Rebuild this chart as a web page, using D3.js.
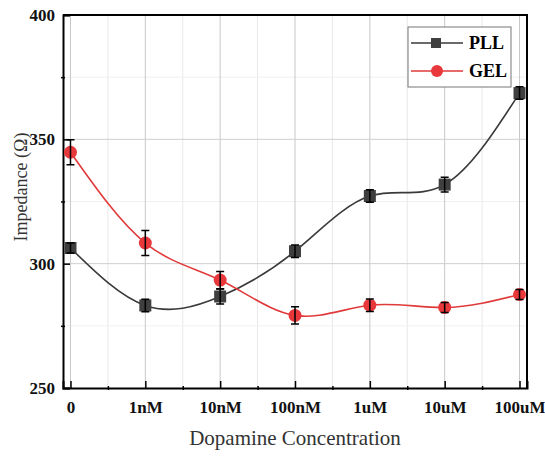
<!DOCTYPE html>
<html>
<head>
<meta charset="utf-8">
<script src="https://cdn.jsdelivr.net/npm/d3@7"></script>
<style>
  body { margin: 0; background: #fff; }
  text { font-family: "Liberation Serif", "DejaVu Serif", serif; }
</style>
</head>
<body>
<div id="chart"></div>
<script>
const categories = ["0", "1nM", "10nM", "100nM", "1uM", "10uM", "100uM"];
const pllValues = [306.3, 283.2, 286.8, 305.0, 327.2, 331.8, 368.6];
const pllErrors = [2.0, 2.5, 3.0, 2.5, 2.5, 3.0, 2.5];
const gelValues = [344.8, 308.3, 293.4, 279.2, 283.3, 282.4, 287.6];
const gelErrors = [5.0, 5.0, 3.5, 3.5, 2.5, 2.0, 2.0];
const yMajorTicks = [250, 300, 350, 400];
const yMinorTicks = [275, 325, 375];

const width = 545, height = 456;
const plotLeft = 63, plotRight = 527, plotTop = 15, plotBottom = 388;

const svg = d3.select("#chart")
    .append("svg")
        .attr("width", width)
        .attr("height", height);

const x = d3.scaleLinear()
    .domain([-0.1, categories.length - 0.9])
    .range([plotLeft, plotRight]);

const y = d3.scaleLinear()
    .domain([250, 400])
    .range([plotBottom, plotTop]);

const idx = categories.map((c, i) => i);
const minorX = idx.slice(0, -1).map(i => i + 0.5);

// grid lines
svg.append("g").selectAll("line")
    .data(minorX)
    .enter()
    .append("line")
        .attr("x1", d => x(d)).attr("x2", d => x(d))
        .attr("y1", plotTop).attr("y2", plotBottom)
        .attr("stroke", "#e8e8e8");
svg.append("g").selectAll("line")
    .data(yMinorTicks)
    .enter()
    .append("line")
        .attr("x1", plotLeft).attr("x2", plotRight)
        .attr("y1", d => y(d)).attr("y2", d => y(d))
        .attr("stroke", "#f0f0f0");
svg.append("g").selectAll("line")
    .data(idx)
    .enter()
    .append("line")
        .attr("x1", d => x(d)).attr("x2", d => x(d))
        .attr("y1", plotTop).attr("y2", plotBottom)
        .attr("stroke", "#c8c8c8");
svg.append("g").selectAll("line")
    .data([300, 350])
    .enter()
    .append("line")
        .attr("x1", plotLeft).attr("x2", plotRight)
        .attr("y1", d => y(d)).attr("y2", d => y(d))
        .attr("stroke", "#cfcfcf");

// axes
const xAxis = svg.append("g")
    .attr("transform", `translate(0,${plotBottom})`)
    .call(d3.axisBottom(x).tickValues(idx).tickSize(-7).tickPadding(13)
        .tickFormat(i => categories[i]));
xAxis.selectAll("text")
    .attr("font-size", 17).attr("font-weight", "bold").attr("fill", "#111");
xAxis.selectAll("g.tick").filter(i => i === categories.length - 1)
    .select("text").attr("dx", 0);

svg.append("g")
    .attr("transform", `translate(0,${plotBottom})`)
    .call(d3.axisBottom(x).tickValues(minorX).tickSize(4).tickFormat(""))
    .call(g => g.select(".domain").remove())
    .selectAll("line").attr("transform", "translate(0,-2)");

const yAxis = svg.append("g")
    .attr("transform", `translate(${plotLeft},0)`)
    .call(d3.axisLeft(y).tickValues(yMajorTicks).tickSize(-7).tickPadding(8));
yAxis.selectAll("text")
    .attr("font-size", 17).attr("font-weight", "bold").attr("fill", "#111");

svg.append("g")
    .attr("transform", `translate(${plotLeft},0)`)
    .call(d3.axisLeft(y).tickValues(yMinorTicks).tickSize(4).tickFormat(""))
    .call(g => g.select(".domain").remove())
    .selectAll("line").attr("transform", "translate(2,0)");

svg.selectAll(".domain").attr("stroke-width", 2);
svg.selectAll(".tick line").attr("stroke-width", 1.5);

// frame top / right
svg.append("path")
    .attr("d", `M${plotLeft},${plotTop}H${plotRight}V${plotBottom}`)
    .attr("fill", "none")
    .attr("stroke", "#000")
    .attr("stroke-width", 2);

// axis titles
svg.append("text")
    .attr("x", 295)
    .attr("y", 445)
    .attr("text-anchor", "middle")
    .attr("font-size", 21)
    .attr("fill", "#333")
    .text("Dopamine Concentration");
svg.append("text")
    .attr("transform", "rotate(-90)")
    .attr("x", -187)
    .attr("y", 27)
    .attr("text-anchor", "middle")
    .attr("font-size", 18)
    .attr("fill", "#333")
    .text("Impedance (Ω)");

const line = d3.line()
    .x((d, i) => x(i))
    .y(d => y(d))
    .curve(d3.curveNatural);

function drawSeries(values, errors, color, markerFill, shape) {
    const g = svg.append("g");
    g.append("path")
        .datum(values)
        .attr("d", line)
        .attr("fill", "none")
        .attr("stroke", color)
        .attr("stroke-width", 1.6);
    const eb = g.selectAll("g.err")
        .data(values)
        .enter()
        .append("g");
    if (shape === "square") {
        eb.append("rect")
            .attr("x", (d, i) => x(i) - 6)
            .attr("y", d => y(d) - 6)
            .attr("width", 12).attr("height", 12)
            .attr("fill", markerFill);
    } else {
        eb.append("circle")
            .attr("cx", (d, i) => x(i))
            .attr("cy", d => y(d))
            .attr("r", 6.5)
            .attr("fill", markerFill);
    }
    eb.append("path")
        .attr("d", (d, i) => {
            const cx = x(i), t = y(d + errors[i]), b = y(d - errors[i]);
            return `M${cx},${t}V${b}M${cx - 4},${t}H${cx + 4}M${cx - 4},${b}H${cx + 4}`;
        })
        .attr("stroke", "#000")
        .attr("stroke-width", 1.5)
        .attr("fill", "none");
}

drawSeries(pllValues, pllErrors, "#3a3a3a", "#3f3f3f", "square");
drawSeries(gelValues, gelErrors, "#e03a3a", "#e8383b", "circle");

// legend
const legend = svg.append("g");
legend.append("rect")
    .attr("x", 408).attr("y", 27)
    .attr("width", 103).attr("height", 60)
    .attr("fill", "#fff")
    .attr("stroke", "#777")
    .attr("stroke-width", 1);
const legendItems = [
    { name: "PLL", color: "#3a3a3a", fill: "#3f3f3f", shape: "square" },
    { name: "GEL", color: "#e03a3a", fill: "#e8383b", shape: "circle" }
];
legendItems.forEach((item, i) => {
    const ly = 43 + i * 28;
    legend.append("line")
        .attr("x1", 411).attr("x2", 463)
        .attr("y1", ly).attr("y2", ly)
        .attr("stroke", item.color).attr("stroke-width", 1.6);
    if (item.shape === "square") {
        legend.append("rect")
            .attr("x", 431).attr("y", ly - 5)
            .attr("width", 10).attr("height", 10)
            .attr("fill", item.fill);
    } else {
        legend.append("circle")
            .attr("cx", 437).attr("cy", ly).attr("r", 6)
            .attr("fill", item.fill);
    }
    legend.append("text")
        .attr("x", 469).attr("y", ly + 6)
        .attr("font-size", 18)
        .attr("font-weight", "bold")
        .attr("fill", "#000")
        .text(item.name);
});
</script>
</body>
</html>
